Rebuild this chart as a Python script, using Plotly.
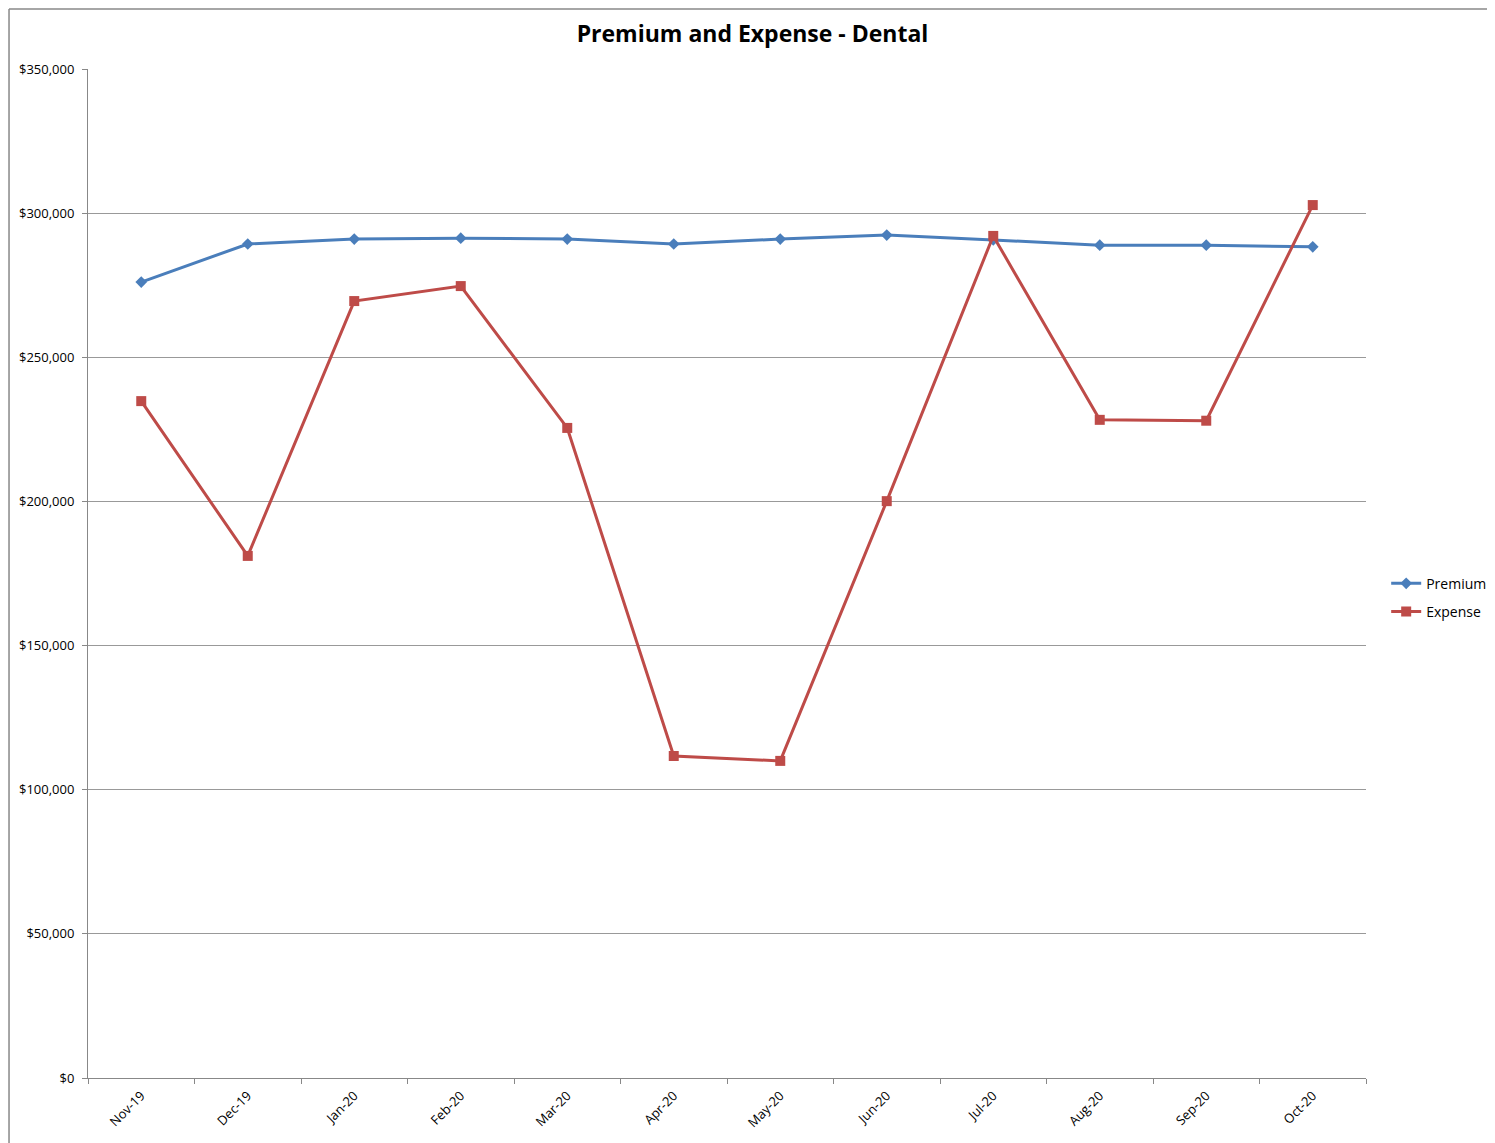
import plotly.graph_objects as go

months = ["Nov-19", "Dec-19", "Jan-20", "Feb-20", "Mar-20", "Apr-20",
          "May-20", "Jun-20", "Jul-20", "Aug-20", "Sep-20", "Oct-20"]
premium = [276100, 289300, 291000, 291300, 291000, 289300,
           291000, 292400, 290700, 288900, 288900, 288300]
expense = [234800, 181100, 269500, 274700, 225500, 111700,
           110000, 200100, 292100, 228300, 228000, 302800]

fig = go.Figure()
fig.add_trace(go.Scatter(x=months, y=premium, name="Premium", mode="lines+markers",
                         legendgroup="p",
                         line=dict(color="#4A7EBB", width=3),
                         marker=dict(symbol="diamond", size=9, color="#4A7EBB")))
fig.add_trace(go.Scatter(x=months, y=expense, name="Expense", mode="lines+markers",
                         legendgroup="e",
                         line=dict(color="#BE4B48", width=3),
                         marker=dict(symbol="square", size=10, color="#BE4B48")))

fig.update_layout(
    width=1495, height=1143,
    margin=dict(l=80, r=136, t=61, b=73),
    paper_bgcolor="white", plot_bgcolor="white",
    font=dict(family="Open Sans, Liberation Sans, sans-serif", size=13, color="black"),
    title=dict(text="<b>Premium and Expense - Dental</b>", x=0.498, xref="container",
               xanchor="center", y=0.977, yanchor="middle",
               font=dict(size=23, family="Open Sans, Liberation Sans, sans-serif")),
    legend=dict(x=1.015, y=0.476, xanchor="left", yanchor="middle",
                font=dict(size=14), tracegroupgap=7),
    showlegend=True,
    shapes=[
        dict(type="line", xref="paper", yref="paper",
             x0=-0.0618, x1=1.2, y0=1.0595, y1=1.0595,
             line=dict(color="#888888", width=1.5)),
        dict(type="line", xref="paper", yref="paper",
             x0=-0.0618, x1=-0.0618, y0=-0.2, y1=1.0595,
             line=dict(color="#888888", width=1.5)),
    ],
)
fig.update_xaxes(type="category", range=[-0.5, 11.5], tickangle=-45,
                 ticks="outside", tickson="boundaries", ticklen=5,
                 tickcolor="#888888", showline=True, linecolor="#888888",
                 linewidth=1, showgrid=False, tickfont=dict(size=13),
                 ticklabelstandoff=4)
fig.update_yaxes(range=[0, 350000], dtick=50000, tickformat="$,.0f",
                 ticks="outside", ticklen=5, tickcolor="#888888",
                 showline=True, linecolor="#888888", linewidth=1,
                 showgrid=True, gridcolor="#999999", gridwidth=1,
                 zeroline=False, tickfont=dict(size=13),
                 ticklabelstandoff=5)

fig.write_html("out.html")
